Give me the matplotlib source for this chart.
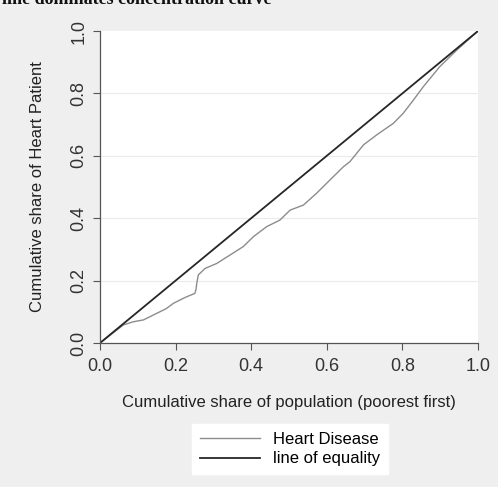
import matplotlib
matplotlib.use("Agg")
from matplotlib import pyplot as plt

plt.rcParams["font.family"] = ["Liberation Sans", "DejaVu Sans"]

# concentration curve for heart disease (cumulative population share vs cumulative patient share)
pop_share = [0.0, 0.03, 0.062, 0.088, 0.115, 0.15, 0.175, 0.194, 0.215, 0.229, 0.251, 0.254,
             0.256, 0.26, 0.278, 0.309, 0.344, 0.379, 0.406, 0.441, 0.476, 0.503, 0.538,
             0.573, 0.608, 0.644, 0.661, 0.697, 0.732, 0.776, 0.802, 0.83, 0.855, 0.899,
             0.944, 1.0]
patient_share = [0.0, 0.028, 0.058, 0.068, 0.074, 0.095, 0.11, 0.127, 0.14, 0.148, 0.159, 0.172,
                 0.191, 0.218, 0.239, 0.255, 0.282, 0.309, 0.341, 0.373, 0.394, 0.426, 0.442,
                 0.48, 0.522, 0.565, 0.581, 0.635, 0.667, 0.704, 0.736, 0.78, 0.821, 0.886,
                 0.939, 1.0]
equality = [0.0, 1.0]

ticks = [0.0, 0.2, 0.4, 0.6, 0.8, 1.0]
tick_labels = ["0.0", "0.2", "0.4", "0.6", "0.8", "1.0"]

fig = plt.figure(figsize=(4.98, 4.87), dpi=100, facecolor="#efefef")
ax = fig.add_axes([100 / 498, 1 - 343 / 487, 378 / 498, 312 / 487])
ax.set_facecolor("white")

for t in ticks[1:-1]:
    ax.axhline(t, color="#ebebeb", lw=0.8, zorder=0)

l1, = ax.plot(pop_share, patient_share, color="#8c8c8c", lw=1.0, label="Heart Disease")
l2, = ax.plot(equality, equality, color="#262626", lw=1.3, label="line of equality")

ax.set_xlim(0, 1)
ax.set_ylim(0, 1)
ax.set_xticks(ticks)
ax.set_xticklabels(tick_labels, fontsize=13, color="#333333")
ax.set_yticks(ticks)
ax.set_yticklabels(tick_labels, fontsize=13, color="#333333", rotation=90, va="center")
ax.tick_params(direction="out", length=5, width=0.8, color="#555555")
ax.tick_params(axis="x", pad=6)
ax.tick_params(axis="y", pad=4)
for side in ["top", "right"]:
    ax.spines[side].set_visible(False)
for side in ["left", "bottom"]:
    ax.spines[side].set_color("#555555")
    ax.spines[side].set_linewidth(0.9)

fig.text(289 / 498, 1 - 403 / 487, "Cumulative share of population (poorest first)",
         ha="center", va="center", fontsize=12, color="#222222")
fig.text(38 / 498, 1 - 187 / 487, "Cumulative share of Heart Patient",
         ha="center", va="center", rotation=90, fontsize=12, color="#222222")

# heading of the figure, cut off by the top edge
fig.text(2 / 498, 1 - 4 / 487, "line dominates concentration curve",
         ha="left", va="baseline", fontsize=13, fontweight="bold",
         family="Liberation Serif", color="#111111")

leg = fig.legend(handles=[l1, l2], loc="center", bbox_to_anchor=(290 / 498, 1 - 449 / 487),
                 frameon=True, fontsize=12, handlelength=3.6, handletextpad=0.8,
                 labelspacing=0.3, borderpad=0.45)
leg.get_frame().set_facecolor("white")
leg.get_frame().set_edgecolor("white")
leg.get_frame().set_alpha(1)
leg.get_frame().set_boxstyle("square", pad=0)

fig.savefig("out.png", dpi=100, facecolor=fig.get_facecolor())
